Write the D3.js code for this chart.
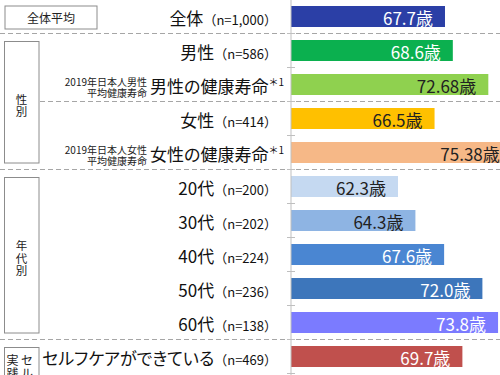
<!DOCTYPE html>
<html>
<head>
<meta charset="utf-8">
<script src="https://cdn.jsdelivr.net/npm/d3@7"></script>
<style>
    body { margin: 0; background: #fff; }
    text { font-family: "Noto Sans CJK JP", "Noto Sans", sans-serif; }
    .main-label { font-feature-settings: "palt"; }
</style>
</head>
<body>
<div id="chart"></div>
<script>
// rows, top to bottom
var categories = ["全体", "男性", "男性の健康寿命", "女性", "女性の健康寿命",
    "20代", "30代", "40代", "50代", "60代", "セルフケアができている"];
var sampleSizes = ["1,000", "586", "", "414", "", "200", "202", "224", "236", "138", "469"];
var values = [67.7, 68.6, 72.68, 66.5, 75.38, 62.3, 64.3, 67.6, 72.0, 73.8, 69.7];

// reference notes for the national healthy life expectancy rows
var noteRows = [2, 4];
var noteTexts = [["2019年日本人男性", "平均健康寿命"], ["2019年日本人女性", "平均健康寿命"]];

// group boxes on the left
var groupNames = ["全体平均", "性別", "年代別", "セルフケア実践"];
var groupStart = [0, 1, 5, 10];
var groupEnd = [0, 4, 9, 10];

// dashed separators drawn after these rows
var separatorAfter = [0, 2, 4, 9];

var Colors = ["#2b3fa6", "#0bb04f", "#8fd14f", "#ffc000", "#f6b887",
    "#c5d9f1", "#8eb4e3", "#4a86d2", "#3d76bb", "#7b7bff", "#c0504d"];
var darkRows = [2, 3, 4, 5, 6];

var W = 500, H = 375;
var axisX = 291;

var svg = d3.select("#chart").append("svg")
    .attr("width", W)
    .attr("height", H);

var x = d3.scaleLinear()
    .domain([50, 80])
    .range([axisX, axisX + 30 * 8.7]);

var y = d3.scaleBand()
    .domain(d3.range(categories.length))
    .range([-0.5, -0.5 + 34 * categories.length])
    .paddingInner(13 / 34)
    .paddingOuter(13 / 68);

var bw = y.bandwidth();
var gap = (y.step() - bw) / 2;
function boundary(i) { return y(i) + bw + gap; }
function mid(i) { return y(i) + bw / 2; }

// dashed separators
svg.append("g").selectAll("line")
    .data(separatorAfter).enter()
    .append("line")
    .attr("x1", d => d === 2 ? 40 : 0)
    .attr("x2", W)
    .attr("y1", d => boundary(d))
    .attr("y2", d => boundary(d))
    .attr("stroke", "#a6a6a6")
    .attr("stroke-dasharray", "5,3");

// bars
svg.append("g").selectAll("rect")
    .data(values).enter()
    .append("rect")
    .attr("x", x(50))
    .attr("y", (d, i) => y(i))
    .attr("width", d => x(d) - x(50))
    .attr("height", bw)
    .attr("fill", (d, i) => Colors[i]);

// axis line and ticks at row boundaries
svg.append("line")
    .attr("x1", axisX).attr("x2", axisX)
    .attr("y1", 0).attr("y2", H)
    .attr("stroke", "#bfbfbf");

svg.append("g").selectAll("line")
    .data(d3.range(categories.length)).enter()
    .append("line")
    .attr("x1", axisX - 4).attr("x2", axisX + 4)
    .attr("y1", d => boundary(d))
    .attr("y2", d => boundary(d))
    .attr("stroke", "#bfbfbf");

// value labels inside bars
function fmt(v) {
    var dec = (String(v).split(".")[1] || "").length;
    return v.toFixed(dec === 2 ? 2 : 1) + "歳";
}
svg.append("g").selectAll("text")
    .data(values).enter()
    .append("text")
    .attr("x", d => x(d) - 12)
    .attr("y", (d, i) => mid(i) + 8)
    .attr("text-anchor", "end")
    .attr("font-size", "17px")
    .attr("fill", (d, i) => darkRows.indexOf(i) >= 0 ? "#222" : "#fff")
    .text(d => fmt(d));

// category labels
var labels = svg.append("g").selectAll("text")
    .data(categories).enter()
    .append("text")
    .attr("x", (d, i) => sampleSizes[i] ? 277 : 284)
    .attr("y", (d, i) => mid(i) + 8)
    .attr("text-anchor", "end")
    .attr("fill", "#111");

labels.append("tspan")
    .attr("class", "main-label")
    .attr("font-size", "17px")
    .text(d => d);

labels.append("tspan")
    .attr("font-size", (d, i) => sampleSizes[i] ? "13px" : "10px")
    .attr("dy", (d, i) => sampleSizes[i] ? 0 : -7)
    .text((d, i) => sampleSizes[i] ? "（n=" + sampleSizes[i] + "）" : "＊1");

// notes next to the health-expectancy rows
noteRows.forEach(function (r, k) {
    svg.append("g").selectAll("text")
        .data(noteTexts[k]).enter()
        .append("text")
        .attr("x", 147)
        .attr("y", (d, j) => mid(r) + 1.5 + j * 11)
        .attr("text-anchor", "end")
        .attr("font-size", "10px")
        .attr("fill", "#222")
        .text(d => d);
});

// group boxes
groupNames.forEach(function (name, g) {
    var top = y(groupStart[g]) + (g === 0 ? 0 : 1.5);
    var bottom = y(groupEnd[g]) + bw;
    if (g === 3) bottom = H + 10;
    var box = svg.append("g");
    if (g === 0) {
        box.append("rect")
            .attr("x", 5).attr("y", top)
            .attr("width", 92).attr("height", bottom - top + 2)
            .attr("fill", "none").attr("stroke", "#8c8c8c");
        box.append("text")
            .attr("x", 51).attr("y", mid(0) + 6)
            .attr("text-anchor", "middle")
            .attr("font-size", "12px")
            .attr("fill", "#222")
            .text(name);
        return;
    }
    box.append("rect")
        .attr("x", 4.5).attr("y", top)
        .attr("width", 34.5).attr("height", bottom - top)
        .attr("fill", "none").attr("stroke", "#8c8c8c");
    if (g === 3) {
        // vertical text, right column first; only the part above the edge shows
        var cols = ["セル", "実践"];
        cols.forEach(function (c, ci) {
            box.append("g").selectAll("text")
                .data(c.split("")).enter()
                .append("text")
                .attr("x", ci === 0 ? 27 : 12.5)
                .attr("y", (d, j) => top + 17 + j * 13.5)
                .attr("text-anchor", "middle")
                .attr("font-size", "12px")
                .attr("fill", "#222")
                .text(d => d);
        });
        return;
    }
    var chars = name.split("");
    var c0 = (top + bottom) / 2 + 3 - (chars.length - 1) * 12.5 / 2;
    box.append("g").selectAll("text")
        .data(chars).enter()
        .append("text")
        .attr("x", 21.5)
        .attr("y", (d, j) => c0 + j * 12.5 + 4.5)
        .attr("text-anchor", "middle")
        .attr("font-size", "11.5px")
        .attr("fill", "#222")
        .text(d => d);
});
</script>
</body>
</html>
